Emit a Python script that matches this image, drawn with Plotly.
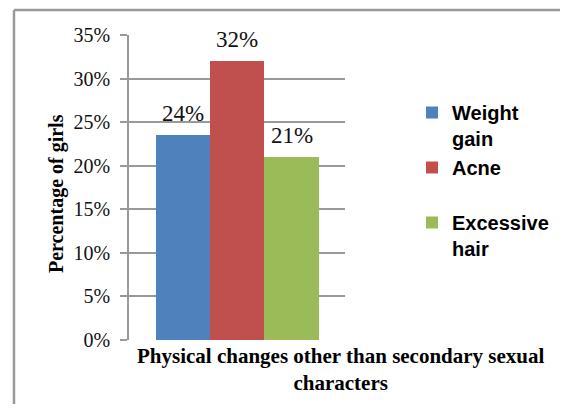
import plotly.graph_objects as go

# ---- data ----
series = ["Weight gain", "Acne", "Excessive hair"]
legend_text = ["Weight<br>gain", "Acne<br> ", "Excessive<br>hair"]
values = [23.5, 32.0, 21.0]          # percent of girls
value_labels = ["24%", "32%", "21%"]
colors = ["#4F81BD", "#C0504D", "#9BBB59"]
y_ticks = [0, 5, 10, 15, 20, 25, 30, 35]
y_tick_labels = ["0%", "5%", "10%", "15%", "20%", "25%", "30%", "35%"]
x_title = "Physical changes other than secondary sexual<br>characters"
y_title = "Percentage of girls"

# page body has an 8px margin on every side, so the figure is drawn 16px smaller
W, H = 552, 396
L, T = 121, 27
PW, PH = 216, 305
R, B = W - L - PW, H - T - PH

fig = go.Figure()
for name, lt, v, c in zip(series, legend_text, values, colors):
    fig.add_trace(go.Bar(
        x=[name], y=[v], name=lt, marker=dict(color=c, line=dict(width=0)),
        hoverinfo="skip",
    ))

for name, v, lab in zip(series, values, value_labels):
    fig.add_annotation(
        x=name, y=v, xref="x", yref="y", text=lab, showarrow=False,
        yanchor="bottom", yshift=7,
        font=dict(family="Liberation Serif", size=23, color="#111111"),
    )

# x-axis title as a centred two-line label (offset right like the original)
fig.add_annotation(
    xref="paper", yref="paper", x=(333 - L) / PW, y=-29.5 / PH, text=x_title,
    showarrow=False, xanchor="center", yanchor="middle", align="center",
    font=dict(family="Liberation Serif", size=21, color="#000000", weight="bold"),
)

# y-axis title
fig.add_annotation(
    xref="paper", yref="paper", x=(48 - L) / PW, y=(PH - 186 + T) / PH, text=y_title,
    showarrow=False, xanchor="center", yanchor="middle", textangle=-90,
    font=dict(family="Liberation Serif", size=20, color="#000000", weight="bold"),
)

# outer chart border (top and left edges; the others run off the page)
bx0 = (6 - L) / PW
bx1 = (W - L) / PW
by_top = (T + PH - 2) / PH
by_bot = -(H - (T + PH)) / PH
border = dict(color="#9a9a9a", width=2.5)
fig.add_shape(type="line", xref="paper", yref="paper",
              x0=bx0, x1=bx1, y0=by_top, y1=by_top, line=border, layer="below")
fig.add_shape(type="line", xref="paper", yref="paper",
              x0=bx0, x1=bx0, y0=by_top, y1=by_bot, line=border, layer="below")

fig.update_layout(
    width=W, height=H,
    margin=dict(l=L, r=R, t=T, b=B, autoexpand=False),
    paper_bgcolor="white", plot_bgcolor="white",
    barmode="group", bargap=0, bargroupgap=0,
    showlegend=True,
    legend=dict(
        xref="container", yref="container", x=404 / W, y=1 - 85 / H,
        xanchor="left", yanchor="top", valign="top",
        font=dict(family="Liberation Sans", size=20, color="#000000", weight="bold"),
        bgcolor="rgba(0,0,0,0)", borderwidth=0, tracegroupgap=0, itemwidth=30,
    ),
    font=dict(family="Liberation Serif", color="#111111"),
)

fig.update_xaxes(
    range=[-0.992, 2.984], showticklabels=False, ticks="", showgrid=False,
    showline=False, zeroline=False, fixedrange=True,
)
fig.update_yaxes(
    range=[0, 35], tickmode="array", tickvals=y_ticks, ticktext=y_tick_labels,
    tickfont=dict(family="Liberation Serif", size=20, color="#111111"),
    ticks="outside", ticklen=7, tickcolor="#999999", tickwidth=1.5,
    showgrid=True, gridcolor="#999999", gridwidth=1.5,
    showline=True, linecolor="#999999", linewidth=1.5,
    zeroline=False, ticklabelstandoff=6,
)

fig.write_html("out.html")
